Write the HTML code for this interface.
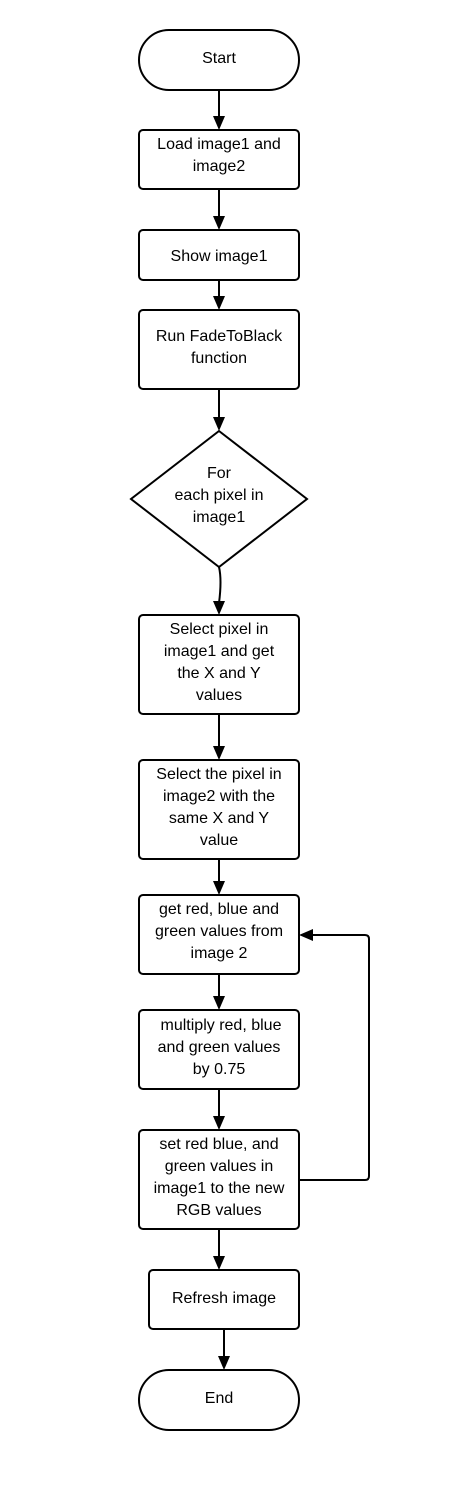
<!DOCTYPE html>
<html><head><style>body{margin:0;background:#fff}svg{display:block}text{font-family:"Liberation Sans",sans-serif;font-size:16px;fill:#000;text-anchor:middle}</style></head><body>
<svg width="465" height="1488" viewBox="0 0 465 1488">
<g fill="#fff" stroke="#000" stroke-width="2">
<rect x="139" y="30" width="160" height="60" rx="30"/>
<rect x="139" y="130" width="160" height="59" rx="4"/>
<rect x="139" y="230" width="160" height="50" rx="4"/>
<rect x="139" y="310" width="160" height="79" rx="4"/>
<polygon points="219,431 307,499 219,567 131,499"/>
<rect x="139" y="615" width="160" height="99" rx="4"/>
<rect x="139" y="760" width="160" height="99" rx="4"/>
<rect x="139" y="895" width="160" height="79" rx="4"/>
<rect x="139" y="1010" width="160" height="79" rx="4"/>
<rect x="139" y="1130" width="160" height="99" rx="4"/>
<rect x="149" y="1270" width="150" height="59" rx="4"/>
<rect x="139" y="1370" width="160" height="60" rx="30"/>
</g>
<g stroke="#000" stroke-width="2" fill="none">
<line x1="219" y1="90" x2="219" y2="118"/><line x1="219" y1="189" x2="219" y2="218"/>
<line x1="219" y1="280" x2="219" y2="298"/><line x1="219" y1="389" x2="219" y2="419"/>
<path d="M219,567 Q222,580 219,603"/><line x1="219" y1="714" x2="219" y2="748"/>
<line x1="219" y1="859" x2="219" y2="883"/><line x1="219" y1="974" x2="219" y2="998"/>
<line x1="219" y1="1089" x2="219" y2="1118"/><line x1="219" y1="1229" x2="219" y2="1258"/>
<line x1="224" y1="1329" x2="224" y2="1358"/>
<path d="M299,1180 H365 Q369,1180 369,1176 V939 Q369,935 365,935 H311"/>
</g>
<g fill="#000">
<path d="M213,116 L225,116 L219,130Z"/><path d="M213,216 L225,216 L219,230Z"/>
<path d="M213,296 L225,296 L219,310Z"/><path d="M213,417 L225,417 L219,431Z"/>
<path d="M213,601 L225,601 L219,615Z"/><path d="M213,746 L225,746 L219,760Z"/>
<path d="M213,881 L225,881 L219,895Z"/><path d="M213,996 L225,996 L219,1010Z"/>
<path d="M213,1116 L225,1116 L219,1130Z"/><path d="M213,1256 L225,1256 L219,1270Z"/>
<path d="M218,1356 L230,1356 L224,1370Z"/>
<path d="M313,929 L313,941 L299,935Z"/>
</g>
<g style="font-size:16.5px">
<text x="219" y="63">Start</text>
<text x="219" y="149">Load image1 and</text><text x="219" y="171">image2</text>
<text x="219" y="261">Show image1</text>
<text x="219" y="341">Run FadeToBlack</text><text x="219" y="363">function</text>
<text x="219" y="478">For</text><text x="219" y="500">each pixel in</text><text x="219" y="522">image1</text>
<text x="219" y="634">Select pixel in</text><text x="219" y="656">image1 and get</text><text x="219" y="678">the X and Y</text><text x="219" y="700">values</text>
<text x="219" y="779">Select the pixel in</text><text x="219" y="801">image2 with the</text><text x="219" y="823">same X and Y</text><text x="219" y="845">value</text>
<text x="219" y="914">get red, blue and</text><text x="219" y="936">green values from</text><text x="219" y="958">image 2</text>
<text x="221" y="1030">multiply red, blue</text><text x="219" y="1052">and green values</text><text x="219" y="1074">by 0.75</text>
<text x="219" y="1149">set red blue, and</text><text x="219" y="1171">green values in</text><text x="219" y="1193">image1 to the new</text><text x="219" y="1215">RGB values</text>
<text x="224" y="1303">Refresh image</text>
<text x="219" y="1403">End</text>
</g>
</svg></body></html>
